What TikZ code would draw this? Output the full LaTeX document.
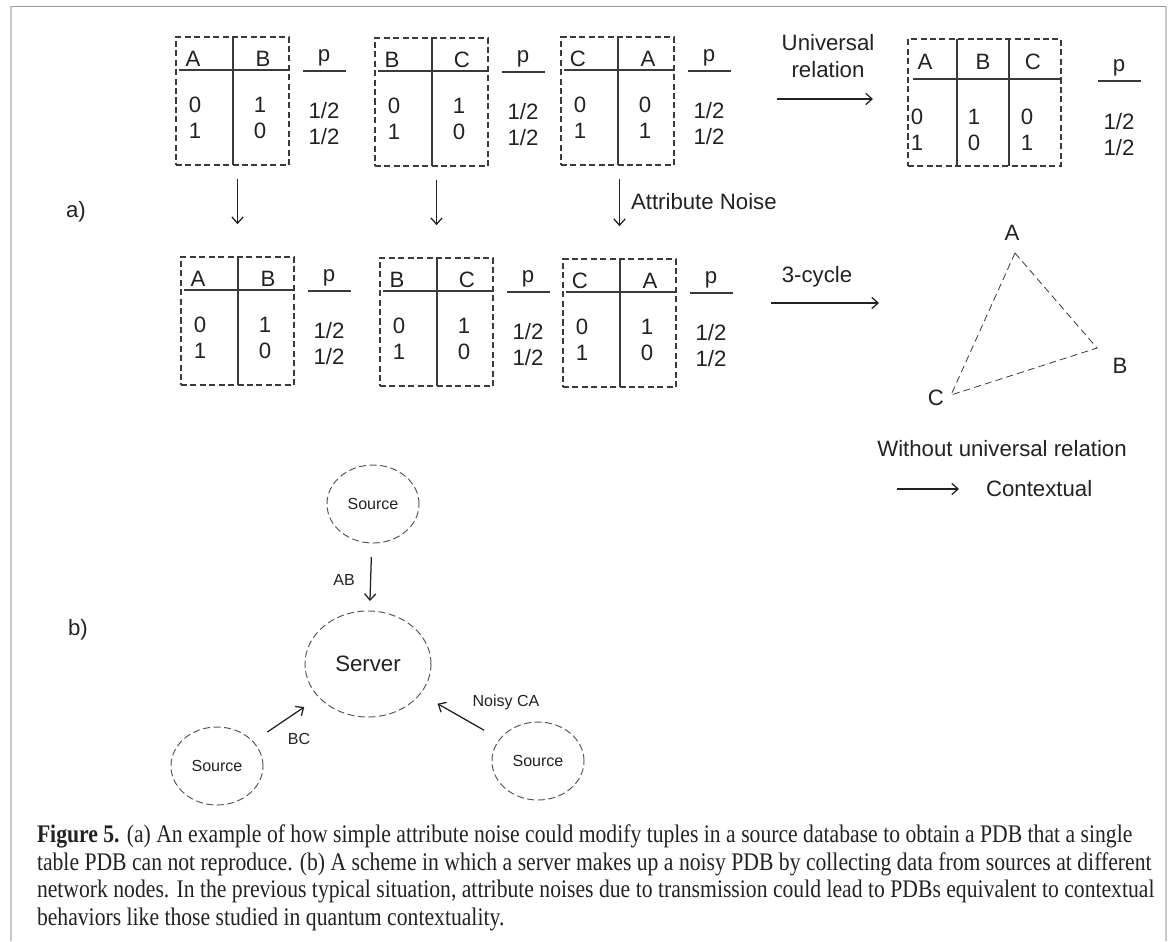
\documentclass[tikz,border=0pt]{standalone}
\usepackage{fontspec}
\setmainfont{Liberation Sans}
\newfontfamily\capfont[FakeStretch=0.856]{Liberation Serif}
\usetikzlibrary{positioning,shapes.geometric,arrows.meta}
\definecolor{ink}{HTML}{222222}
\definecolor{edge}{HTML}{3A3A3A}
\definecolor{sidegray}{HTML}{C8C8C8}
\definecolor{topgray}{HTML}{9A9A9A}

% two-column table: name, x, y, two heads, four entries
\newcommand{\pdbtab}[9]{%
  \begin{scope}[shift={(#2,#3)}]
    \node[tabbox,anchor=north west] (#1) at (0,0) {};
    \draw[rule] (57,0) -- (57,128);
    \draw[rule] (3,33) -- (113,33);
    \node[big] (#1-h1) at (17,22) {#4};
    \node[big] (#1-h2) at (87,22) {#5};
    \node[big] (#1-a1) at (19,68) {#6};
    \node[big] (#1-a2) at (84,68) {#7};
    \node[big] (#1-b1) at (19,94) {#8};
    \node[big] (#1-b2) at (84,94) {#9};
    \node[big] (#1-p) at (148,21) {p};
    \draw[rule] (127,34) -- (170,34);
    \node[big] (#1-p1) at (148,74) {1/2};
    \node[big] (#1-p2) at (148,100) {1/2};
  \end{scope}}

\begin{document}
\begin{tikzpicture}[x=0.025cm,y=-0.025cm,inner sep=0pt,outer sep=0pt,
  >={Straight Barb[length=4.5pt,width=8pt]},
  big/.style={font=\fontsize{15.8}{19.2}\selectfont,text=ink},
  small/.style={font=\fontsize{11.4}{13}\selectfont,text=ink},
  rule/.style={draw=edge,line width=1.1pt},
  tabbox/.style={draw=edge,line width=1pt,dash pattern=on 4.3pt off 2.4pt,
    minimum width=2.825cm,minimum height=3.2cm},
  arr/.style={->,draw=ink,line width=0.9pt},
  vdown/.style={arr,shorten <=0.36cm,shorten >=0.82cm},
  srcnode/.style={draw=black!65,ellipse,line width=0.7pt,dash pattern=on 5pt off 2.5pt,
    minimum width=2.3cm,minimum height=1.95cm,small}]

\useasboundingbox (0,0) rectangle (1170,941);
% frame of the figure
\draw[sidegray,line width=1.4pt] (11,6) -- (11,941);
\draw[sidegray,line width=1.4pt] (1166,6) -- (1166,941);
\draw[topgray,line width=0.8pt] (11,6.5) -- (1166,6.5);

% a) tables
\node[big] (la) at (76,212) {a)};
\pdbtab{T1}{176}{37}{A}{B}{0}{1}{1}{0}
\pdbtab{T2}{375}{38}{B}{C}{0}{1}{1}{0}
\pdbtab{T3}{561}{37}{C}{A}{0}{0}{1}{1}
\pdbtab{T5}{181}{257}{A}{B}{0}{1}{1}{0}
\pdbtab{T6}{380}{258}{B}{C}{0}{1}{1}{0}
\pdbtab{T7}{563}{259}{C}{A}{0}{1}{1}{0}

% universal table
\node[tabbox,anchor=north west,minimum width=3.825cm,minimum height=3.175cm] (T4) at (908,39) {};
\draw[rule] (957,39) -- (957,166);
\draw[rule] (1009,39) -- (1009,166);
\draw[rule] (913,79) -- (1061,79);
\node[big] (T4-h1) at (925,62) {A};
\node[big] (T4-h2) at (983,62) {B};
\node[big] (T4-h3) at (1033,62) {C};
\node[big] (T4-a1) at (917,117) {0};
\node[big] (T4-a2) at (974,117) {1};
\node[big] (T4-a3) at (1027,117) {0};
\node[big] (T4-b1) at (917,143) {1};
\node[big] (T4-b2) at (974,143) {0};
\node[big] (T4-b3) at (1027,143) {1};
\node[big] (T4-p) at (1119,68) {p};
\draw[rule] (1098,81) -- (1141,81);
\node[big] (T4-p1) at (1119,122) {1/2};
\node[big] (T4-p2) at (1119,148) {1/2};

\node[big,align=center] (univ) at (828,56) {Universal\\relation};
\coordinate (u1) at (777,99);
\draw[arr,shorten >=0.875cm] (u1) -- (u1 -| T4.west);

% noise arrows
\draw[vdown] (T1.south -| T5.north) -- (T5.north);
\draw[vdown] (T2.south -| T6.north) -- (T6.north);
\draw[vdown] (T3.south -| T7.north) -- (T7.north);
\node[big,anchor=west] (noise) at (631,202) {Attribute Noise};

% 3-cycle
\node[big] (cyc) at (817,277) {3-cycle};
\coordinate (c1) at (771,303);
\draw[arr] (c1) -- ++(108,0) coordinate (c2);
\coordinate (vA) at (1015,253);
\coordinate (vB) at (1097,348);
\coordinate (vC) at (951,395);
\draw[draw=black!75,line width=0.6pt,dash pattern=on 5pt off 3pt] (vA) -- (vB) -- (vC) -- cycle;
\node[big] (lA) at (1012,233) {A};
\node[big] (lB) at (1120,366) {B};
\node[big] (lC) at (936,398) {C};
\node[big] (nour) at (1002,449) {Without universal relation};
\coordinate (k1) at (897,489);
\draw[arr] (k1) -- ++(62,0) coordinate (k2);
\node[big,right=0.675cm of k2] (ctx) {Contextual};

% b) network
\node[big] (lb) at (78,630) {b)};
\node[srcnode] (srcA) at (373,504) {Source};
\node[srcnode,big,minimum width=3.15cm,minimum height=2.65cm] (server) at (368,664) {Server};
\node[srcnode] (srcB) at (217,766) {Source};
\node[srcnode] (srcC) at (538,761) {Source};
\draw[arr,shorten <=0.35cm,shorten >=0.25cm] (srcA) -- (server);
\draw[arr,shorten <=0.43cm,shorten >=0.44cm] (srcB) -- (server);
\draw[arr,shorten <=0.45cm,shorten >=0.5cm] (srcC) -- (server);
\node[small] (eAB) at (344,580) {AB};
\node[small] (eBC) at (299,739) {BC};
\node[small] (eCA) at (506,702) {Noisy CA};

% caption
\node[anchor=north west,align=left,text=ink,
  font=\capfont\fontsize{18}{19.6}\selectfont] (cap) at (37,825)
  {\textbf{Figure 5.} (a) An example of how simple attribute noise could modify tuples in a source database to obtain a PDB that a single\\
  table PDB can not reproduce. (b) A scheme in which a server makes up a noisy PDB by collecting data from sources at different\\
  network nodes. In the previous typical situation, attribute noises due to transmission could lead to PDBs equivalent to contextual\\
  behaviors like those studied in quantum contextuality.};
\end{tikzpicture}
\end{document}
